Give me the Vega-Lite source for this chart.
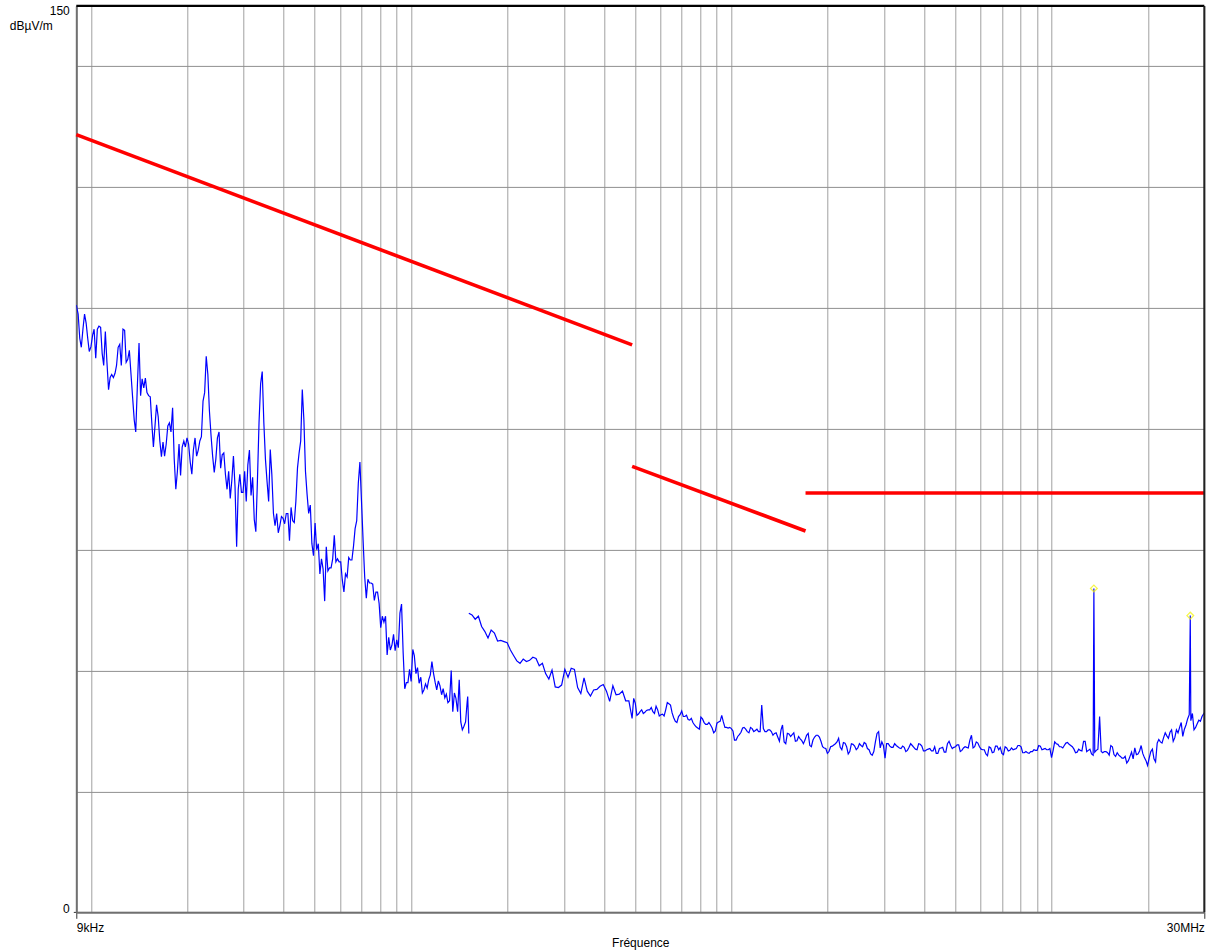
{
  "$schema": "https://vega.github.io/schema/vega-lite/v6.json",
  "width": 1128,
  "height": 906.4,
  "autosize": {"type": "none"},
  "padding": {"left": 76.3, "top": 5.9, "right": 3.7, "bottom": 39.7},
  "background": "white",
  "config": {
    "view": {"stroke": null},
    "font": "Liberation Sans",
    "axis": {"labelFont": "Liberation Sans", "titleFont": "Liberation Sans", "labelColor": "#000", "titleColor": "#000", "labelFontSize": 12, "titleFontSize": 12, "titleFontWeight": "normal"}
  },
  "datasets": {
    "meas": [
      {"f":9000,"v":100.5,"b":1},{"f":9120,"v":99,"b":1},{"f":9226,"v":95,"b":1},{"f":9330,"v":93.5,"b":1},{"f":9440,"v":96.5,"b":1},{"f":9550,"v":99,"b":1},{"f":9660,"v":97.5,"b":1},{"f":9770,"v":95,"b":1},{"f":9880,"v":92.8,"b":1},
      {"f":10000,"v":93.6,"b":1},{"f":10120,"v":95.5,"b":1},{"f":10230,"v":96.5,"b":1},{"f":10350,"v":91.7,"b":1},{"f":10470,"v":96.5,"b":1},{"f":10590,"v":97,"b":1},{"f":10720,"v":96.8,"b":1},{"f":10840,"v":92.5,"b":1},{"f":10960,"v":90.5,"b":1},{"f":11090,"v":96.1,"b":1},
      {"f":11220,"v":91,"b":1},{"f":11350,"v":86.5,"b":1},{"f":11480,"v":88.5,"b":1},{"f":11610,"v":89,"b":1},{"f":11750,"v":88.5,"b":1},{"f":11890,"v":89.2,"b":1},{"f":12020,"v":90.5,"b":1},{"f":12160,"v":93.5,"b":1},{"f":12300,"v":94,"b":1},{"f":12440,"v":90.5,"b":1},
      {"f":12590,"v":96.5,"b":1},{"f":12740,"v":96.3,"b":1},{"f":12880,"v":91,"b":1},{"f":13030,"v":91.5,"b":1},{"f":13180,"v":93,"b":1},{"f":13340,"v":89,"b":1},{"f":13490,"v":85.3,"b":1},{"f":13650,"v":81.5,"b":1},{"f":13800,"v":79.5,"b":1},{"f":13960,"v":87,"b":1},
      {"f":14130,"v":94.2,"b":1},{"f":14290,"v":85.5,"b":1},{"f":14450,"v":88.3,"b":1},{"f":14620,"v":86.8,"b":1},{"f":14790,"v":88.4,"b":1},{"f":14960,"v":86,"b":1},{"f":15140,"v":85.5,"b":1},{"f":15320,"v":85.3,"b":1},{"f":15490,"v":81,"b":1},{"f":15670,"v":77,"b":1},
      {"f":15850,"v":80.5,"b":1},{"f":16030,"v":84,"b":1},{"f":16220,"v":82,"b":1},{"f":16410,"v":78,"b":1},{"f":16600,"v":75.4,"b":1},{"f":16790,"v":77.8,"b":1},{"f":16980,"v":75.5,"b":1},{"f":17180,"v":77.5,"b":1},{"f":17380,"v":80.5,"b":1},{"f":17580,"v":81,"b":1},
      {"f":17780,"v":79.5,"b":1},{"f":17990,"v":83.5,"b":1},{"f":18200,"v":75,"b":1},{"f":18410,"v":70,"b":1},{"f":18620,"v":73,"b":1},{"f":18840,"v":77.5,"b":1},{"f":19050,"v":72.3,"b":1},{"f":19270,"v":77,"b":1},{"f":19500,"v":78,"b":1},{"f":19720,"v":77,"b":1},
      {"f":19950,"v":78.5,"b":1},{"f":20180,"v":77.5,"b":1},{"f":20420,"v":74.5,"b":1},{"f":20660,"v":72.5,"b":1},{"f":20890,"v":76.5,"b":1},{"f":21140,"v":78.5,"b":1},{"f":21380,"v":75.5,"b":1},{"f":21630,"v":76.5,"b":1},{"f":21880,"v":78,"b":1},{"f":22130,"v":78.7,"b":1},
      {"f":22390,"v":84.6,"b":1},{"f":22650,"v":86,"b":1},{"f":22910,"v":92,"b":1},{"f":23180,"v":89,"b":1},{"f":23440,"v":83,"b":1},{"f":23710,"v":79,"b":1},{"f":23990,"v":75.5,"b":1},{"f":24270,"v":72.8,"b":1},{"f":24550,"v":75,"b":1},{"f":24830,"v":78.5,"b":1},
      {"f":25120,"v":79.5,"b":1},{"f":25410,"v":73.5,"b":1},{"f":25700,"v":75.7,"b":1},{"f":26000,"v":76,"b":1},{"f":26300,"v":72.5,"b":1},{"f":26610,"v":70,"b":1},{"f":26920,"v":73,"b":1},{"f":27230,"v":68.5,"b":1},{"f":27540,"v":71.5,"b":1},{"f":27860,"v":75.5,"b":1},
      {"f":28180,"v":70.5,"b":1},{"f":28510,"v":60.5,"b":1},{"f":28840,"v":70,"b":1},{"f":29170,"v":72.5,"b":1},{"f":29510,"v":69.5,"b":1},{"f":29850,"v":69.5,"b":1},{"f":30200,"v":73,"b":1},{"f":30550,"v":68,"b":1},{"f":30900,"v":74,"b":1},{"f":31260,"v":76.5,"b":1},
      {"f":31620,"v":69,"b":1},{"f":31990,"v":72,"b":1},{"f":32360,"v":65,"b":1},{"f":32730,"v":63,"b":1},{"f":33110,"v":71.5,"b":1},{"f":33490,"v":81,"b":1},{"f":33880,"v":87.5,"b":1},{"f":34270,"v":89.5,"b":1},{"f":34670,"v":81,"b":1},{"f":35070,"v":75,"b":1},
      {"f":35480,"v":71.3,"b":1},{"f":35890,"v":68,"b":1},{"f":36310,"v":76.6,"b":1},{"f":36720,"v":72.5,"b":1},{"f":37150,"v":66,"b":1},{"f":37580,"v":64,"b":1},{"f":38020,"v":66,"b":1},{"f":38460,"v":62.8,"b":1},{"f":38900,"v":64,"b":1},{"f":39350,"v":65.5,"b":1},
      {"f":39810,"v":65.2,"b":1},{"f":40270,"v":64.3,"b":1},{"f":40740,"v":66,"b":1},{"f":41210,"v":66,"b":1},{"f":41690,"v":61.5,"b":1},{"f":42170,"v":67,"b":1},{"f":42660,"v":64.8,"b":1},{"f":43150,"v":64.5,"b":1},{"f":43650,"v":68,"b":1},{"f":44160,"v":73.5,"b":1},
      {"f":44670,"v":76,"b":1},{"f":45190,"v":78,"b":1},{"f":45710,"v":86.5,"b":1},{"f":46240,"v":81.5,"b":1},{"f":46770,"v":73,"b":1},{"f":47310,"v":69.2,"b":1},{"f":47860,"v":66,"b":1},{"f":48420,"v":67.4,"b":1},{"f":48980,"v":61,"b":1},{"f":49550,"v":59,"b":1},
      {"f":50120,"v":64.4,"b":1},{"f":50700,"v":60,"b":1},{"f":51290,"v":61,"b":1},{"f":51880,"v":56,"b":1},{"f":52480,"v":58.5,"b":1},{"f":53090,"v":56.8,"b":1},{"f":53700,"v":51.5,"b":1},{"f":54320,"v":60.5,"b":1},{"f":54950,"v":56.5,"b":1},{"f":55590,"v":57,"b":1},
      {"f":56230,"v":57,"b":1},{"f":56880,"v":58.5,"b":1},{"f":57540,"v":62.4,"b":1},{"f":58210,"v":58,"b":1},{"f":58880,"v":58.5,"b":1},{"f":59570,"v":58,"b":1},{"f":60260,"v":58,"b":1},{"f":60950,"v":55,"b":1},{"f":61660,"v":53,"b":1},{"f":62370,"v":56,"b":1},
      {"f":63100,"v":55.5,"b":1},{"f":63830,"v":58.7,"b":1},{"f":64570,"v":58.3,"b":1},{"f":65310,"v":58.3,"b":1},{"f":66070,"v":60.6,"b":1},{"f":66830,"v":63.5,"b":1},{"f":67610,"v":64.8,"b":1},{"f":68390,"v":71,"b":1},{"f":69180,"v":74.5,"b":1},{"f":69980,"v":68,"b":1},
      {"f":70790,"v":61.5,"b":1},{"f":71610,"v":55.5,"b":1},{"f":72440,"v":52,"b":1},{"f":73280,"v":55.1,"b":1},{"f":74130,"v":54.5,"b":1},{"f":74990,"v":54.5,"b":1},{"f":75860,"v":54.3,"b":1},{"f":76740,"v":51.6,"b":1},{"f":77630,"v":53,"b":1},{"f":78530,"v":53,"b":1},
      {"f":79430,"v":51.1,"b":1},{"f":80350,"v":47.1,"b":1},{"f":81280,"v":49,"b":1},{"f":82220,"v":48,"b":1},{"f":83180,"v":49,"b":1},{"f":84140,"v":42.6,"b":1},{"f":85110,"v":45.5,"b":1},{"f":86100,"v":43.4,"b":1},{"f":87100,"v":44.2,"b":1},{"f":88110,"v":46,"b":1},
      {"f":89130,"v":43.3,"b":1},{"f":90160,"v":45.1,"b":1},{"f":91200,"v":43.8,"b":1},{"f":92260,"v":49.5,"b":1},{"f":93330,"v":51,"b":1},{"f":94410,"v":43,"b":1},{"f":95500,"v":37,"b":1},{"f":96610,"v":38,"b":1},{"f":97720,"v":38,"b":1},{"f":98860,"v":40.2,"b":1},
      {"f":100000,"v":38.2,"b":1},{"f":101200,"v":43.5,"b":1},{"f":102300,"v":42.5,"b":1},{"f":103500,"v":39.5,"b":1},{"f":104700,"v":40.5,"b":1},{"f":105900,"v":37.9,"b":1},{"f":107200,"v":38.9,"b":1},{"f":108400,"v":36.3,"b":1},{"f":109600,"v":36.8,"b":1},{"f":110900,"v":37.8,"b":1},
      {"f":112200,"v":37.1,"b":1},{"f":113500,"v":38.5,"b":1},{"f":114800,"v":39.3,"b":1},{"f":116100,"v":41.5,"b":1},{"f":117500,"v":39.5,"b":1},{"f":118900,"v":38,"b":1},{"f":120200,"v":36.8,"b":1},{"f":121600,"v":38.3,"b":1},{"f":123000,"v":37.5,"b":1},{"f":124500,"v":36,"b":1},
      {"f":125900,"v":37,"b":1},{"f":127400,"v":35.5,"b":1},{"f":128800,"v":36.1,"b":1},{"f":130300,"v":34.7,"b":1},{"f":131800,"v":35,"b":1},{"f":133400,"v":40,"b":1},{"f":134900,"v":33.2,"b":1},{"f":136500,"v":36.3,"b":1},{"f":138000,"v":35.4,"b":1},{"f":139700,"v":33.2,"b":1},
      {"f":141300,"v":38.5,"b":1},{"f":142900,"v":31.5,"b":1},{"f":144500,"v":30.2,"b":1},{"f":146200,"v":30.8,"b":1},{"f":147900,"v":31.5,"b":1},{"f":149600,"v":34.8,"b":1},{"f":150200,"v":35.7,"b":1},{"f":151400,"v":29.6,"b":1},
      {"f":151400,"v":49.5,"b":2},{"f":154900,"v":49.2,"b":2},{"f":158500,"v":48.5,"b":2},{"f":162200,"v":49.0,"b":2},{"f":166000,"v":47.3,"b":2},{"f":169800,"v":46.5,"b":2},{"f":173800,"v":45.4,"b":2},{"f":177800,"v":46.7,"b":2},{"f":182000,"v":46.2,"b":2},{"f":186200,"v":44.9,"b":2},
      {"f":190500,"v":45.0,"b":2},{"f":195000,"v":44.8,"b":2},{"f":199500,"v":44.6,"b":2},{"f":204200,"v":43.4,"b":2},{"f":208900,"v":42.5,"b":2},{"f":213800,"v":41.6,"b":2},{"f":218800,"v":41.2,"b":2},{"f":223900,"v":41.9,"b":2},{"f":229100,"v":41.5,"b":2},{"f":234400,"v":41.7,"b":2},
      {"f":239900,"v":42.2,"b":2},{"f":245500,"v":42.0,"b":2},{"f":251200,"v":40.8,"b":2},{"f":257000,"v":41.2,"b":2},{"f":263000,"v":39.5,"b":2},{"f":269200,"v":38.6,"b":2},{"f":275400,"v":40.1,"b":2},{"f":281800,"v":37.3,"b":2},{"f":288400,"v":37.2,"b":2},{"f":295100,"v":37.6,"b":2},
      {"f":302000,"v":40.2,"b":2},{"f":309000,"v":38.9,"b":2},{"f":316200,"v":40.4,"b":2},{"f":323600,"v":40.2,"b":2},{"f":331100,"v":37.2,"b":2},{"f":338800,"v":36.2,"b":2},{"f":346700,"v":38.8,"b":2},{"f":354800,"v":36.6,"b":2},{"f":363100,"v":35.8,"b":2},{"f":371500,"v":36.8,"b":2},
      {"f":380200,"v":36.9,"b":2},{"f":389000,"v":37.4,"b":2},{"f":398100,"v":37.7,"b":2},{"f":407400,"v":36.6,"b":2},{"f":416900,"v":34.9,"b":2},{"f":426600,"v":37.5,"b":2},{"f":436500,"v":36.0,"b":2},{"f":446700,"v":36.1,"b":2},{"f":457100,"v":36.6,"b":2},{"f":467700,"v":35.0,"b":2},
      {"f":478600,"v":35.0,"b":2},{"f":489800,"v":32.1,"b":2},{"f":495500,"v":35.4,"b":2},{"f":501200,"v":34.6,"b":2},{"f":512900,"v":32.8,"b":2},{"f":524800,"v":33.5,"b":2},{"f":537000,"v":33.1,"b":2},{"f":549500,"v":33.5,"b":2},{"f":562300,"v":33.9,"b":2},{"f":575400,"v":32.9,"b":2},{"f":588800,"v":33.5,"b":2},
      {"f":602600,"v":32.7,"b":2},{"f":616600,"v":32.5,"b":2},{"f":631000,"v":34.7,"b":2},{"f":645700,"v":34.3,"b":2},{"f":660700,"v":32.2,"b":2},{"f":676100,"v":31.4,"b":2},{"f":691800,"v":32.7,"b":2},{"f":707900,"v":32.4,"b":2},{"f":724400,"v":32.6,"b":2},{"f":741300,"v":31.8,"b":2},
      {"f":758600,"v":31.4,"b":2},{"f":776200,"v":30.7,"b":2},{"f":794300,"v":30.3,"b":2},{"f":812800,"v":32.0,"b":2},{"f":831800,"v":31.1,"b":2},{"f":851100,"v":31.4,"b":2},{"f":871000,"v":30.5,"b":2},{"f":891300,"v":30.0,"b":2},{"f":912000,"v":31.5,"b":2},{"f":933300,"v":32.6,"b":2},
      {"f":955000,"v":30.6,"b":2},{"f":977200,"v":30.5,"b":2},{"f":1000000,"v":30.4,"b":2},{"f":1023000,"v":28.5,"b":2},{"f":1047000,"v":29.1,"b":2},{"f":1072000,"v":29.8,"b":2},{"f":1096000,"v":30.6,"b":2},{"f":1122000,"v":29.9,"b":2},{"f":1148000,"v":30.6,"b":2},{"f":1175000,"v":29.9,"b":2},
      {"f":1202000,"v":30.3,"b":2},{"f":1230000,"v":29.9,"b":2},{"f":1259000,"v":30.4,"b":2},{"f":1288000,"v":29.9,"b":2},{"f":1318000,"v":30.2,"b":2},{"f":1349000,"v":29.3,"b":2},{"f":1380000,"v":29.7,"b":2},{"f":1413000,"v":28.3,"b":2},{"f":1445000,"v":31.0,"b":2},{"f":1479000,"v":27.9,"b":2},
      {"f":1514000,"v":29.5,"b":2},{"f":1549000,"v":29.4,"b":2},{"f":1585000,"v":28.3,"b":2},{"f":1622000,"v":29.1,"b":2},{"f":1660000,"v":28.4,"b":2},{"f":1698000,"v":28.5,"b":2},{"f":1738000,"v":29.6,"b":2},{"f":1778000,"v":27.4,"b":2},{"f":1820000,"v":29.0,"b":2},{"f":1862000,"v":29.3,"b":2},
      {"f":1905000,"v":28.3,"b":2},{"f":1950000,"v":27.2,"b":2},{"f":1995000,"v":26.3,"b":2},{"f":2042000,"v":27.4,"b":2},{"f":2089000,"v":27.7,"b":2},{"f":2138000,"v":28.2,"b":2},{"f":2188000,"v":27.3,"b":2},{"f":2239000,"v":28.1,"b":2},{"f":2291000,"v":27.4,"b":2},{"f":2344000,"v":26.6,"b":2},
      {"f":2399000,"v":27.8,"b":2},{"f":2455000,"v":26.9,"b":2},{"f":2512000,"v":27.9,"b":2},{"f":2570000,"v":27.4,"b":2},{"f":2630000,"v":27.9,"b":2},{"f":2692000,"v":26.9,"b":2},{"f":2754000,"v":26.0,"b":2},{"f":2818000,"v":28.2,"b":2},{"f":2884000,"v":29.9,"b":2},{"f":2951000,"v":28.2,"b":2},
      {"f":3020000,"v":25.5,"b":2},{"f":3090000,"v":27.9,"b":2},{"f":3162000,"v":27.3,"b":2},{"f":3236000,"v":27.9,"b":2},{"f":3311000,"v":27.4,"b":2},{"f":3388000,"v":27.1,"b":2},{"f":3467000,"v":27.3,"b":2},{"f":3548000,"v":26.8,"b":2},{"f":3631000,"v":27.9,"b":2},{"f":3715000,"v":27.3,"b":2},
      {"f":3802000,"v":26.9,"b":2},{"f":3890000,"v":27.8,"b":2},{"f":3981000,"v":26.7,"b":2},{"f":4074000,"v":26.9,"b":2},{"f":4169000,"v":27.1,"b":2},{"f":4266000,"v":26.7,"b":2},{"f":4365000,"v":26.3,"b":2},{"f":4467000,"v":27.1,"b":2},{"f":4571000,"v":27.3,"b":2},{"f":4677000,"v":26.5,"b":2},
      {"f":4786000,"v":28.3,"b":2},{"f":4898000,"v":27.1,"b":2},{"f":5012000,"v":27.4,"b":2},{"f":5129000,"v":27.7,"b":2},{"f":5248000,"v":26.8,"b":2},{"f":5370000,"v":27.4,"b":2},{"f":5495000,"v":27.2,"b":2},{"f":5623000,"v":29.3,"b":2},{"f":5754000,"v":27.4,"b":2},{"f":5888000,"v":28.0,"b":2},
      {"f":6026000,"v":27.0,"b":2},{"f":6166000,"v":26.9,"b":2},{"f":6310000,"v":25.9,"b":2},{"f":6457000,"v":27.2,"b":2},{"f":6607000,"v":26.5,"b":2},{"f":6761000,"v":27.5,"b":2},{"f":6918000,"v":27.3,"b":2},{"f":7079000,"v":26.1,"b":2},{"f":7244000,"v":27.2,"b":2},{"f":7413000,"v":26.8,"b":2},
      {"f":7586000,"v":26.9,"b":2},{"f":7763000,"v":27.1,"b":2},{"f":7943000,"v":27.6,"b":2},{"f":8128000,"v":26.4,"b":2},{"f":8318000,"v":26.6,"b":2},{"f":8511000,"v":26.3,"b":2},{"f":8710000,"v":26.6,"b":2},{"f":8913000,"v":26.8,"b":2},{"f":9120000,"v":27.6,"b":2},{"f":9333000,"v":26.9,"b":2},
      {"f":9550000,"v":27.1,"b":2},{"f":9772000,"v":26.9,"b":2},{"f":10000000,"v":25.6,"b":2},{"f":10230000,"v":28.2,"b":2},{"f":10470000,"v":27.8,"b":2},{"f":10720000,"v":27.4,"b":2},{"f":10960000,"v":27.6,"b":2},{"f":11220000,"v":28.1,"b":2},{"f":11480000,"v":27.6,"b":2},{"f":11750000,"v":27.0,"b":2},
      {"f":12020000,"v":26.5,"b":2},{"f":12300000,"v":26.8,"b":2},{"f":12590000,"v":28.3,"b":2},{"f":12880000,"v":26.6,"b":2},{"f":13180000,"v":27.0,"b":2},{"f":13490000,"v":26.0,"b":2},{"f":13560000,"v":53.6,"b":2},{"f":13800000,"v":26.8,"b":2},{"f":14130000,"v":32.4,"b":2},{"f":14450000,"v":26.4,"b":2},
      {"f":14790000,"v":26.6,"b":2},{"f":15140000,"v":26.0,"b":2},{"f":15490000,"v":27.4,"b":2},{"f":15850000,"v":25.8,"b":2},{"f":16220000,"v":26.0,"b":2},{"f":16600000,"v":25.5,"b":2},{"f":16980000,"v":25.8,"b":2},{"f":17380000,"v":25.1,"b":2},{"f":17780000,"v":26.5,"b":2},{"f":18200000,"v":27.2,"b":2},
      {"f":18620000,"v":26.2,"b":2},{"f":19050000,"v":27.6,"b":2},{"f":19500000,"v":25.6,"b":2},{"f":19950000,"v":24.3,"b":2},{"f":20420000,"v":26.6,"b":2},{"f":20890000,"v":25.4,"b":2},{"f":21380000,"v":28.0,"b":2},{"f":21880000,"v":28.2,"b":2},{"f":22390000,"v":28.9,"b":2},{"f":22910000,"v":29.2,"b":2},
      {"f":23440000,"v":29.8,"b":2},{"f":23990000,"v":28.3,"b":2},{"f":24550000,"v":30.2,"b":2},{"f":25120000,"v":30.6,"b":2},{"f":25700000,"v":29.1,"b":2},{"f":26300000,"v":31.0,"b":2},{"f":26920000,"v":32.7,"b":2},{"f":27120000,"v":49.1,"b":2},{"f":27540000,"v":32.9,"b":2},{"f":28180000,"v":30.6,"b":2},
      {"f":28840000,"v":31.8,"b":2},{"f":29510000,"v":32.4,"b":2},{"f":30000000,"v":33.0,"b":2},
      {"f":507000,"v":32.6,"b":2},{"f":518800,"v":33.2,"b":2},{"f":530900,"v":32.9,"b":2},{"f":543200,"v":33.4,"b":2},{"f":555900,"v":33.5,"b":2},{"f":568800,"v":33.2,"b":2},{"f":582100,"v":34.1,"b":2},{"f":595600,"v":32.5,"b":2},{"f":609600,"v":32.8,"b":2},{"f":623700,"v":33.5,"b":2},
      {"f":638300,"v":34.5,"b":2},{"f":653200,"v":33.0,"b":2},{"f":668400,"v":31.6,"b":2},{"f":683900,"v":32.4,"b":2},{"f":699800,"v":33.3,"b":2},{"f":716100,"v":32.4,"b":2},{"f":732800,"v":31.9,"b":2},{"f":749900,"v":32.1,"b":2},{"f":767400,"v":31.0,"b":2},{"f":785200,"v":30.5,"b":2},
      {"f":803500,"v":32.3,"b":2},{"f":822200,"v":31.4,"b":2},{"f":841400,"v":31.1,"b":2},{"f":861000,"v":31.0,"b":2},{"f":881100,"v":29.7,"b":2},{"f":901600,"v":31.3,"b":2},{"f":922600,"v":31.6,"b":2},{"f":944100,"v":31.5,"b":2},{"f":966100,"v":30.6,"b":2},{"f":988500,"v":30.6,"b":2},
      {"f":1011600,"v":30.0,"b":2},{"f":1034900,"v":28.5,"b":2},{"f":1059100,"v":29.4,"b":2},{"f":1084400,"v":30.5,"b":2},{"f":1108700,"v":30.3,"b":2},{"f":1135000,"v":29.7,"b":2},{"f":1161300,"v":30.4,"b":2},{"f":1188600,"v":30.1,"b":2},{"f":1215900,"v":29.9,"b":2},{"f":1244300,"v":34.3,"b":2},
      {"f":1273600,"v":29.9,"b":2},{"f":1302900,"v":30.2,"b":2},{"f":1333300,"v":29.9,"b":2},{"f":1364600,"v":29.6,"b":2},{"f":1396000,"v":29.0,"b":2},{"f":1429400,"v":30.2,"b":2},{"f":1461800,"v":28.2,"b":2},{"f":1496200,"v":29.6,"b":2},{"f":1531600,"v":29.1,"b":2},{"f":1567000,"v":29.7,"b":2},
      {"f":1603400,"v":28.4,"b":2},{"f":1640800,"v":28.7,"b":2},{"f":1679300,"v":27.9,"b":2},{"f":1717700,"v":29.3,"b":2},{"f":1758200,"v":27.6,"b":2},{"f":1798600,"v":28.5,"b":2},{"f":1841100,"v":29.3,"b":2},{"f":1883600,"v":29.0,"b":2},{"f":1927100,"v":27.4,"b":2},{"f":1972600,"v":27.1,"b":2},
      {"f":2018100,"v":26.6,"b":2},{"f":2065700,"v":27.5,"b":2},{"f":2113200,"v":27.9,"b":2},{"f":2162800,"v":28.8,"b":2},{"f":2213400,"v":26.9,"b":2},{"f":2265000,"v":28.0,"b":2},{"f":2317500,"v":26.2,"b":2},{"f":2371200,"v":27.9,"b":2},{"f":2426800,"v":27.5,"b":2},{"f":2483400,"v":27.2,"b":2},
      {"f":2541100,"v":27.6,"b":2},{"f":2599800,"v":28.1,"b":2},{"f":2660500,"v":27.1,"b":2},{"f":2723200,"v":26.2,"b":2},{"f":2785900,"v":26.6,"b":2},{"f":2850700,"v":29.6,"b":2},{"f":2917400,"v":27.2,"b":2},{"f":2985200,"v":27.6,"b":2},{"f":3055000,"v":27.9,"b":2},{"f":3125800,"v":27.5,"b":2},
      {"f":3198600,"v":27.3,"b":2},{"f":3273500,"v":27.6,"b":2},{"f":3349400,"v":27.2,"b":2},{"f":3427300,"v":27.5,"b":2},{"f":3507200,"v":26.6,"b":2},{"f":3589100,"v":27.3,"b":2},{"f":3673100,"v":27.6,"b":2},{"f":3758000,"v":27.0,"b":2},{"f":3846000,"v":27.9,"b":2},{"f":3935000,"v":27.5,"b":2},
      {"f":4027000,"v":26.7,"b":2},{"f":4121200,"v":27.0,"b":2},{"f":4217400,"v":26.7,"b":2},{"f":4315500,"v":27.4,"b":2},{"f":4415600,"v":26.3,"b":2},{"f":4518800,"v":27.2,"b":2},{"f":4624000,"v":26.5,"b":2},{"f":4731300,"v":27.9,"b":2},{"f":4841500,"v":27.6,"b":2},{"f":4954800,"v":27.3,"b":2},
      {"f":5070100,"v":27.7,"b":2},{"f":5188500,"v":26.6,"b":2},{"f":5308900,"v":27.2,"b":2},{"f":5432300,"v":27.3,"b":2},{"f":5558700,"v":28.5,"b":2},{"f":5688200,"v":27.2,"b":2},{"f":5820700,"v":28.2,"b":2},{"f":5956300,"v":27.4,"b":2},{"f":6095900,"v":26.9,"b":2},{"f":6237500,"v":26.2,"b":2},
      {"f":6383100,"v":27.4,"b":2},{"f":6531900,"v":26.4,"b":2},{"f":6683600,"v":27.5,"b":2},{"f":6839400,"v":26.9,"b":2},{"f":6998100,"v":26.3,"b":2},{"f":7161100,"v":27.4,"b":2},{"f":7328000,"v":26.7,"b":2},{"f":7499000,"v":27.2,"b":2},{"f":7674000,"v":27.0,"b":2},{"f":7853000,"v":27.6,"b":2},
      {"f":8035000,"v":27.4,"b":2},{"f":8222000,"v":26.4,"b":2},{"f":8414500,"v":26.4,"b":2},{"f":8610000,"v":26.6,"b":2},{"f":8811000,"v":26.9,"b":2},{"f":9016000,"v":26.8,"b":2},{"f":9226000,"v":27.5,"b":2},{"f":9441000,"v":27.0,"b":2},{"f":9661000,"v":26.9,"b":2},{"f":9885000,"v":27.1,"b":2},
      {"f":10116000,"v":26.8,"b":2},{"f":10349000,"v":27.9,"b":2},{"f":10591000,"v":27.4,"b":2},{"f":10844000,"v":27.2,"b":2},{"f":11087000,"v":28.0,"b":2},{"f":11350000,"v":27.8,"b":2},{"f":11613000,"v":27.4,"b":2},{"f":11886000,"v":26.4,"b":2},{"f":12159000,"v":27.0,"b":2},{"f":12443000,"v":26.7,"b":2},
      {"f":12736000,"v":28.3,"b":2},{"f":13029000,"v":26.8,"b":2},{"f":13333000,"v":26.2,"b":2},{"f":13646000,"v":26.5,"b":2},{"f":13960000,"v":27.0,"b":2},{"f":14294000,"v":26.6,"b":2},{"f":14618000,"v":26.6,"b":2},{"f":14962000,"v":26.4,"b":2},{"f":15316000,"v":27.6,"b":2},{"f":15670000,"v":26.1,"b":2},
      {"f":16034000,"v":26.4,"b":2},{"f":16408000,"v":25.8,"b":2},{"f":16793000,"v":25.5,"b":2},{"f":17177000,"v":24.7,"b":2},{"f":17582000,"v":25.8,"b":2},{"f":17986000,"v":25.4,"b":2},{"f":18411000,"v":26.1,"b":2},{"f":18836000,"v":26.7,"b":2},{"f":19271000,"v":26.3,"b":2},{"f":19726000,"v":25.1,"b":2},
      {"f":20181000,"v":25.5,"b":2},{"f":20657000,"v":27.0,"b":2},{"f":21132000,"v":24.9,"b":2},{"f":21628000,"v":28.6,"b":2},{"f":22134000,"v":28.0,"b":2},{"f":22650000,"v":29.7,"b":2},{"f":23175000,"v":28.8,"b":2},{"f":23712000,"v":30.2,"b":2},{"f":24268000,"v":28.9,"b":2},{"f":24834000,"v":29.7,"b":2},
      {"f":25411000,"v":31.4,"b":2},{"f":25998000,"v":30.3,"b":2},{"f":26605000,"v":32.0,"b":2},{"f":27232000,"v":31.7,"b":2},{"f":27859000,"v":30.2,"b":2},{"f":28507000,"v":31.2,"b":2},{"f":29174000,"v":31.6,"b":2}
    ],
    "limit": [
      {"f":9000,"v":128.7,"s":"a"},{"f":490000,"v":93.9,"s":"a"},
      {"f":490000,"v":73.8,"s":"b"},{"f":1705000,"v":63.1,"s":"b"},
      {"f":1705000,"v":69.4,"s":"c"},{"f":30000000,"v":69.4,"s":"c"}
    ],
    "peaks": [
      {"f":13560000,"v":53.6},{"f":27120000,"v":49.1}
    ]
  },
  "layer": [
    {
      "data": {"name": "meas"},
      "mark": {"type": "line", "color": "#0000ff", "strokeWidth": 1.2, "clip": true},
      "encoding": {
        "x": {
          "field": "f", "type": "quantitative",
          "scale": {"type": "log", "domain": [9000, 30000000], "nice": false},
          "axis": {
            "title": "Fréquence",
            "values": [9000,10000,20000,30000,40000,50000,60000,70000,80000,90000,100000,200000,300000,400000,500000,600000,700000,800000,900000,1000000,2000000,3000000,4000000,5000000,6000000,7000000,8000000,9000000,10000000,20000000,30000000],
            "labelExpr": "datum.value == 9000 ? '9kHz' : (datum.value == 30000000 ? '30MHz' : '')",
            "labelOverlap": false,
            "labelFlush": true,
            "labelBound": false,
            "labelBaseline": "top",
            "labelPadding": 4,
            "grid": true,
            "gridColor": "#a0a0a0",
            "gridWidth": 1,
            "domainColor": "#707070",
            "domainWidth": 2,
            "tickSize": 6,
            "tickColor": "#333",
            "tickOpacity": {"condition": {"test": "datum.value == 9000 || datum.value == 30000000", "value": 1}, "value": 0},
            "titleBaseline": "alphabetic",
            "titleY": 34,
            "titleX": 564
          }
        },
        "y": {
          "field": "v", "type": "quantitative",
          "scale": {"domain": [0, 150], "nice": false, "zero": false},
          "axis": {
            "title": "dBµV/m",
            "values": [0,20,40,60,80,100,120,140,150],
            "labelExpr": "datum.value == 0 || datum.value == 150 ? datum.label : ''",
            "labelOverlap": false,
            "labelBound": false,
            "labelPadding": 4,
            "labelBaseline": {"condition": {"test": "datum.value == 150", "value": "top"}, "value": "alphabetic"},
            "grid": true,
            "gridColor": "#909090",
            "gridWidth": 1,
            "domainColor": "#707070",
            "domainWidth": 2,
            "tickSize": 3,
            "tickColor": "#333",
            "tickOpacity": {"condition": {"test": "datum.value == 0", "value": 1}, "value": 0},
            "titleAngle": 0,
            "titleAlign": "left",
            "titleBaseline": "alphabetic",
            "titleX": -67,
            "titleY": 24
          }
        },
        "detail": {"field": "b", "type": "nominal"}
      }
    },
    {
      "data": {"name": "limit"},
      "mark": {"type": "line", "color": "#ff0000", "strokeWidth": 3.6},
      "encoding": {
        "x": {"field": "f", "type": "quantitative"},
        "y": {"field": "v", "type": "quantitative"},
        "detail": {"field": "s", "type": "nominal"}
      }
    },
    {
      "data": {"name": "peaks"},
      "mark": {"type": "point", "shape": "diamond", "filled": false, "color": "#f2f200", "size": 45, "strokeWidth": 1.3},
      "encoding": {
        "x": {"field": "f", "type": "quantitative"},
        "y": {"field": "v", "type": "quantitative"}
      }
    },
    {
      "data": {"values": [{}]},
      "mark": {"type": "rule", "color": "#000000", "strokeWidth": 2.4},
      "encoding": {"y": {"datum": 150}}
    },
    {
      "data": {"values": [{}]},
      "mark": {"type": "rule", "color": "#222222", "strokeWidth": 2},
      "encoding": {"x": {"datum": 30000000}}
    }
  ]
}
